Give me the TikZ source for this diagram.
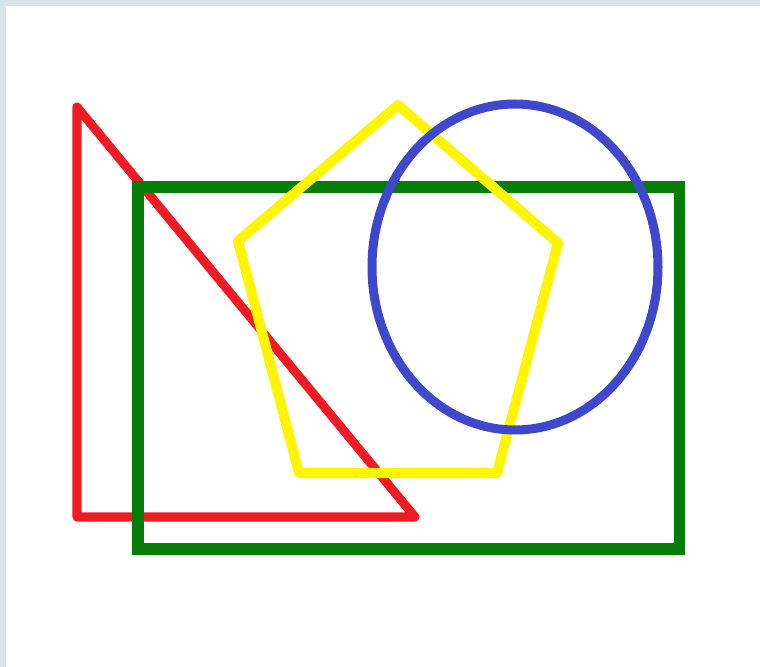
\documentclass[tikz,border=0pt]{standalone}
\usepackage{tikz}
\definecolor{bingkai}{HTML}{D4E4EA}
\definecolor{merah}{HTML}{ED1C24}
\definecolor{hijau}{HTML}{067D06}
\definecolor{kuning}{HTML}{FFF500}
\definecolor{biru}{HTML}{3F48CC}

\begin{document}
\begin{tikzpicture}[
  x=0.01cm, y=-0.01cm,
  bentuk/.style={line width=0.09cm, line join=round, line cap=round},
  segitiga/.style={bentuk, draw=merah},
  persegi/.style={bentuk, draw=hijau, line width=0.11cm, line join=miter},
  segilima/.style={bentuk, draw=kuning, line width=0.10cm},
  elips/.style={bentuk, draw=biru}
]
  % latar dan bingkai
  \fill[bingkai] (0,0) rectangle (760,667);
  \fill[white] (6,6) rectangle (760,667);
  \useasboundingbox (0,0) rectangle (760,667);

  % segitiga siku-siku
  \draw[segitiga] (77,107) -- (77,517) -- (415,517) -- cycle;
  % persegi panjang
  \draw[persegi] (138,187) rectangle (679,549);
  % segilima
  \draw[segilima] (398,105) -- (558,243) -- (497,473) -- (299,473) -- (238,241) -- cycle;
  % elips
  \draw[elips] (515,267) ellipse [x radius=143, y radius=163];
\end{tikzpicture}
\end{document}
